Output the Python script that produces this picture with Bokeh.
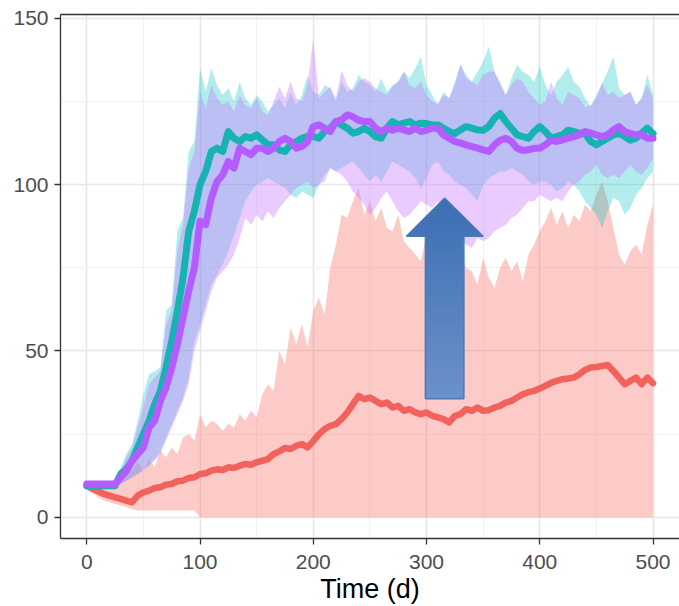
import numpy as np
from bokeh.plotting import figure
from bokeh.models import FixedTicker, Range1d, LinearAxis
from bokeh.embed import file_html
from bokeh.resources import INLINE

# ---------------- data ----------------
t = list(range(0, 501, 5))

r_mean = [9.5, 8.5, 7.8, 7.0, 6.5, 6.0, 5.5, 5.0, 4.5, 6.5,
          7.5, 8.0, 8.8, 9.0, 9.8, 10.0, 10.8, 11.0, 11.8, 12.0,
          13.0, 13.2, 14.0, 14.4, 14.2, 15.0, 14.8, 15.5, 16.0, 15.8,
          16.5, 17.0, 17.5, 19.0, 19.8, 20.8, 20.5, 21.5, 22.0, 21.0,
          22.9, 25.0, 26.5, 27.5, 28.0, 29.5, 31.5, 34.0, 36.5, 35.5,
          36.0, 35.0, 34.0, 34.5, 33.0, 33.5, 32.0, 32.5, 31.5, 31.0,
          31.5, 30.5, 30.0, 29.5, 28.5, 30.5, 31.0, 32.5, 32.0, 33.0,
          32.0, 32.2, 33.0, 33.5, 34.5, 35.0, 36.0, 37.0, 37.6, 38.0,
          38.7, 39.5, 40.4, 41.0, 41.5, 41.7, 42.0, 43.0, 44.3, 45.0,
          45.2, 45.5, 45.8, 44.0, 42.0, 40.0, 41.0, 42.0, 40.0, 42.0,
          40.3]
r_hi = [9.5, 9.5, 10.0, 10.5, 11.0, 11.0, 12.0, 13.0, 14.0, 16.5,
        14.0, 17.5, 15.0, 20.0, 18.0, 21.0, 19.0, 24.0, 25.0, 23.0,
        31.0, 27.0, 29.0, 28.0, 26.0, 28.0, 27.0, 31.0, 29.0, 32.0,
        30.0, 37.0, 40.0, 38.0, 50.0, 46.0, 57.0, 52.0, 58.0, 51.0,
        62.0, 66.0, 61.0, 75.0, 82.0, 91.0, 90.0, 95.0, 99.0, 91.0,
        95.0, 89.0, 93.0, 87.0, 86.0, 91.0, 83.0, 81.0, 79.0, 77.0,
        85.0, 75.0, 80.0, 78.0, 82.0, 76.0, 79.0, 75.0, 74.0, 70.0,
        78.0, 72.0, 69.0, 75.0, 78.0, 74.0, 77.0, 71.0, 79.0, 82.0,
        86.0, 89.0, 93.0, 88.0, 92.0, 87.0, 91.0, 89.0, 94.0, 92.0,
        97.0, 101.0, 95.0, 87.0, 79.0, 76.0, 80.0, 82.0, 79.0, 88.0,
        94.0]
r_lo = [9.0, 7.5, 6.0, 5.0, 4.5, 4.0, 3.5, 3.0, 2.5, 2.0,
        2.0, 2.0, 2.0, 2.0, 2.0, 2.0, 2.0, 2.0, 2.0, 2.0,
        0, 0, 0, 0, 0, 0, 0, 0, 0, 0,
        0, 0, 0, 0, 0, 0, 0, 0, 0, 0,
        0, 0, 0, 0, 0, 0, 0, 0, 0, 0,
        0, 0, 0, 0, 0, 0, 0, 0, 0, 0,
        0, 0, 0, 0, 0, 0, 0, 0, 0, 0,
        0, 0, 0, 0, 0, 0, 0, 0, 0, 0,
        0, 0, 0, 0, 0, 0, 0, 0, 0, 0,
        0, 0, 0, 0, 0, 0, 0, 0, 0, 0,
        0]

c_mean = [9.5, 9.5, 9.5, 9.5, 9.5, 9.5, 13.0, 14.5, 17.0, 21.0,
          25.0, 29.0, 34.0, 38.0, 45.0, 53.0, 62.0, 72.0, 86.0, 92.0,
          100.0, 104.0, 110.0, 111.0, 110.0, 116.0, 114.0, 113.0, 114.5, 114.0,
          115.0, 113.5, 112.0, 112.0, 110.5, 110.0, 112.0, 113.0, 114.0, 114.5,
          114.5, 114.0, 116.0, 117.0, 119.0, 118.0, 117.0, 115.5, 116.0, 117.0,
          116.0, 114.5, 114.0, 117.0, 119.0, 118.0, 118.5, 119.0, 118.0, 118.5,
          118.4, 118.0, 118.0, 117.0, 116.0, 115.4, 116.5, 117.5, 117.0, 116.5,
          116.4, 117.5, 120.0, 121.4, 119.0, 117.0, 115.0, 114.5, 114.0, 116.0,
          117.5, 116.0, 114.0, 114.5, 115.0, 116.4, 116.0, 115.5, 115.4, 113.0,
          112.0, 113.0, 114.0, 115.0, 115.4, 114.5, 113.4, 114.0, 115.5, 117.0,
          115.4]
c_hi = [10.5, 10.5, 10.5, 10.5, 10.5, 10.5, 15.0, 19.0, 22.0, 29.0,
        37.0, 43.0, 44.0, 45.0, 62.0, 64.0, 86.0, 90.0, 110.0, 113.0,
        135.0, 128.0, 135.0, 130.0, 127.0, 129.0, 125.0, 131.0, 126.0, 124.0,
        127.0, 125.0, 122.0, 124.0, 126.0, 123.0, 128.0, 124.0, 127.0, 133.0,
        128.0, 127.0, 130.0, 129.0, 125.0, 131.0, 128.0, 129.0, 133.0, 131.0,
        130.0, 128.0, 132.0, 128.0, 130.0, 131.0, 134.0, 132.0, 135.0, 138.6,
        130.0, 127.0, 124.0, 128.0, 126.0, 131.0, 136.0, 133.0, 131.0, 134.0,
        137.0, 141.6, 134.0, 131.0, 127.0, 132.0, 136.0, 134.0, 133.0, 131.0,
        135.5, 130.0, 127.0, 131.0, 133.0, 135.5, 131.0, 129.5, 126.0, 123.4,
        127.0, 130.5, 134.0, 138.6, 129.0, 127.0, 128.0, 124.0, 126.0, 133.0,
        127.0]
c_lo = [9.5, 9.5, 9.5, 9.5, 9.5, 9.5, 10.0, 11.0, 12.0, 13.0,
        14.5, 16.0, 17.5, 20.0, 24.0, 28.0, 32.0, 36.0, 42.0, 53.0,
        58.0, 64.0, 70.0, 73.0, 76.0, 80.0, 85.0, 90.0, 95.0, 98.0,
        100.0, 101.0, 102.0, 101.0, 100.0, 99.0, 97.0, 96.0, 98.0, 97.0,
        96.0, 100.0, 103.0, 105.0, 104.0, 105.0, 106.0, 107.0, 105.0, 103.0,
        101.0, 103.0, 101.0, 104.0, 107.0, 106.0, 105.0, 104.0, 102.0, 99.0,
        102.0, 106.0, 107.0, 104.0, 103.0, 101.0, 100.0, 99.0, 97.0, 95.0,
        100.0, 102.0, 103.0, 104.0, 104.0, 105.0, 104.0, 103.0, 101.0, 100.0,
        101.0, 101.0, 100.0, 98.0, 99.0, 101.0, 100.0, 98.0, 95.0, 93.0,
        91.0, 87.0, 92.0, 96.0, 95.0, 91.0, 93.0, 97.0, 99.0, 102.0,
        104.0]

p_mean = [10.0, 10.0, 10.0, 10.0, 10.0, 10.0, 12.0, 14.0, 17.0, 19.0,
          21.0, 27.0, 29.0, 35.0, 39.0, 45.0, 52.0, 60.0, 68.0, 75.0,
          89.0, 88.0, 96.0, 101.0, 103.0, 107.0, 105.0, 111.0, 110.0, 109.0,
          111.0, 111.0, 110.0, 111.0, 113.0, 114.0, 113.0, 111.0, 111.5, 113.0,
          117.5, 118.0, 117.0, 116.0, 119.0, 119.5, 121.0, 120.5, 119.4, 119.0,
          119.0, 117.0, 116.0, 117.0, 116.4, 117.0, 116.5, 116.0, 117.0, 116.0,
          116.4, 117.0, 117.0, 115.0, 114.0, 113.0, 112.5, 112.0, 111.5, 111.0,
          110.5, 110.0, 112.0, 113.4, 114.0, 113.0, 111.0, 110.3, 110.5, 111.0,
          111.0, 112.0, 113.4, 113.0, 113.5, 114.0, 114.5, 115.0, 116.0, 115.5,
          115.0, 114.5, 115.0, 116.5, 117.5, 116.0, 115.4, 115.0, 115.0, 114.0,
          114.0]
p_hi = [10.5, 10.5, 10.5, 10.5, 10.5, 10.5, 14.0, 18.0, 21.0, 27.0,
        33.0, 40.0, 42.0, 44.0, 58.0, 62.0, 80.0, 88.0, 105.0, 110.0,
        128.0, 123.0, 130.0, 126.0, 124.0, 125.0, 122.0, 127.0, 124.0, 123.0,
        126.0, 122.0, 121.0, 125.0, 129.5, 126.0, 131.0, 126.0, 125.0, 130.0,
        144.0, 126.0, 128.0, 129.5, 126.0, 134.4, 130.0, 128.0, 131.0, 132.0,
        131.0, 129.0, 128.0, 127.0, 129.5, 131.0, 134.0, 130.0, 129.0, 131.0,
        127.0, 125.0, 124.4, 127.0, 126.0, 130.0, 136.4, 132.0, 131.0, 130.0,
        133.0, 134.0, 134.0, 130.0, 127.0, 130.0, 132.0, 131.0, 128.0, 126.0,
        124.0, 125.0, 131.0, 126.0, 124.0, 128.0, 127.0, 126.0, 123.4, 124.0,
        126.0, 130.5, 127.0, 128.0, 126.0, 127.0, 128.0, 124.0, 126.0, 130.0,
        126.0]
p_lo = [9.5, 9.5, 9.5, 9.5, 9.5, 9.5, 10.0, 11.0, 12.0, 13.0,
        14.0, 15.5, 17.0, 19.0, 23.0, 27.0, 31.0, 35.0, 40.0, 50.0,
        56.0, 62.0, 68.0, 72.0, 74.0, 76.0, 79.0, 84.0, 90.0, 88.0,
        91.0, 89.0, 92.0, 90.0, 93.0, 95.0, 97.0, 99.0, 100.0, 101.0,
        99.0, 100.0, 101.0, 105.0, 104.0, 103.0, 101.0, 98.0, 96.0, 94.0,
        91.0, 93.0, 96.0, 98.0, 95.0, 92.0, 90.0, 91.0, 93.0, 95.0,
        94.0, 93.0, 95.0, 90.0, 87.0, 85.0, 83.0, 82.0, 81.0, 84.0,
        83.0, 84.0, 86.0, 87.0, 88.0, 90.0, 91.0, 93.0, 95.0, 95.0,
        97.0, 96.0, 95.0, 96.0, 95.0, 98.0, 100.0, 101.0, 103.0, 104.0,
        106.0, 103.0, 102.0, 103.0, 102.0, 104.0, 106.0, 104.0, 103.0, 105.0,
        108.0]

x_ticks = [0, 100, 200, 300, 400, 500]
x_minor = [50, 150, 250, 350, 450]
y_ticks = [0, 50, 100, 150]
y_minor = [25, 75, 125]

# arrow annotation (data units)
arrow_shaft_x = [299.0, 333.0]
arrow_head_x = [282.3, 350.0]
arrow_y = [35.6, 84.5, 96.0]   # shaft bottom, head base, tip

# ---------------- figure ----------------
FONT = "Liberation Sans"
p = figure(width=679, height=606, output_backend="svg", toolbar_location=None,
           x_range=Range1d(-23.2, 523.4), y_range=Range1d(-6.4, 151.2),
           min_border_left=60, min_border_right=0, min_border_top=14,
           min_border_bottom=66)
p.outline_line_color = None
p.background_fill_color = "white"
p.border_fill_color = "white"

for ax, tk, mn in ((p.xaxis, x_ticks, x_minor), (p.yaxis, y_ticks, y_minor)):
    ax.ticker = FixedTicker(ticks=tk, minor_ticks=mn)
    ax.axis_line_color = "#333333"
    ax.axis_line_width = 1.3
    ax.major_tick_line_color = "#333333"
    ax.major_tick_line_width = 1.3
    ax.major_tick_out = 6
    ax.major_tick_in = 0
    ax.minor_tick_out = 0
    ax.minor_tick_in = 0
    ax.major_label_text_font = FONT
    ax.major_label_text_font_size = "21px"
    ax.major_label_text_color = "#4D4D4D"
p.yaxis.major_label_standoff = 6
p.xaxis.major_label_standoff = 10
p.xaxis.axis_label = "Time (d)"
p.xaxis.axis_label_text_font = FONT
p.xaxis.axis_label_text_font_size = "27px"
p.xaxis.axis_label_text_font_style = "normal"
p.xaxis.axis_label_text_color = "#000000"
p.xaxis.axis_label_standoff = 2

top_axis = LinearAxis(ticker=FixedTicker(ticks=[]), major_label_text_font_size="0px",
                      major_tick_out=0, major_tick_in=0, minor_tick_out=0, minor_tick_in=0,
                      major_label_standoff=0, axis_line_color="#333333", axis_line_width=1.3)
p.add_layout(top_axis, "above")

for g in (p.xgrid, p.ygrid):
    g.grid_line_color = "#E6E6E6"
    g.grid_line_width = 1.6
    g.minor_grid_line_color = "#F1F1F1"
    g.minor_grid_line_width = 1.0

RED, TEAL, PURP = "#F8766D", "#00BFC4", "#C77CFF"
p.varea(x=t, y1=r_lo, y2=r_hi, fill_color=RED, fill_alpha=0.38)
p.varea(x=t, y1=c_lo, y2=c_hi, fill_color=TEAL, fill_alpha=0.3)
p.varea(x=t, y1=p_lo, y2=p_hi, fill_color=PURP, fill_alpha=0.4)

p.line(t, r_mean, line_color="#F2625C", line_width=6.5, line_join="round", line_cap="round")
p.line(t, c_mean, line_color="#17B3B3", line_width=7, line_join="round", line_cap="round")
p.line(t, p_mean, line_color="#B45CFF", line_width=7, line_join="round", line_cap="round")

# ---------------- arrow with vertical gradient ----------------
y_bot, y_base, y_tip = arrow_y
sx0, sx1 = arrow_shaft_x
hx0, hx1 = arrow_head_x
xc = (sx0 + sx1) / 2.0
hh = (hx1 - hx0) / 2.0
c_bottom = np.array([0x6C, 0x91, 0xC9], float)
c_top = np.array([0x3C, 0x6E, 0xB3], float)


def col_at(v):
    f = (v - y_bot) / (y_tip - y_bot)
    c = c_bottom + (c_top - c_bottom) * f
    return "#%02x%02x%02x" % tuple(int(round(k)) for k in c)


def half_head(v):
    return hh * (y_tip - v) / (y_tip - y_base)


xs, ys, cols = [], [], []
ov = 0.35
edges = np.linspace(y_bot, y_base, 31)
for a, b in zip(edges[:-1], edges[1:]):
    xs.append([sx0, sx1, sx1, sx0])
    ys.append([a, a, b + ov, b + ov])
    cols.append(col_at((a + b) / 2))
edges = np.linspace(y_base, y_tip, 13)
for a, b in zip(edges[:-1], edges[1:]):
    bt = min(b + ov, y_tip)
    wa, wb = half_head(a), half_head(bt)
    xs.append([xc - wa, xc + wa, xc + wb, xc - wb])
    ys.append([a, a, bt, bt])
    cols.append(col_at((a + b) / 2))
p.patches(xs, ys, fill_color=cols, line_color=None)
p.patch([sx0, sx1, sx1, hx1, xc, hx0, sx0, sx0],
        [y_bot, y_bot, y_base, y_base, y_tip, y_base, y_base, y_bot],
        fill_color=None, line_color="#4A79BC", line_width=1.5)

open("out.html", "w").write(file_html(p, INLINE))
